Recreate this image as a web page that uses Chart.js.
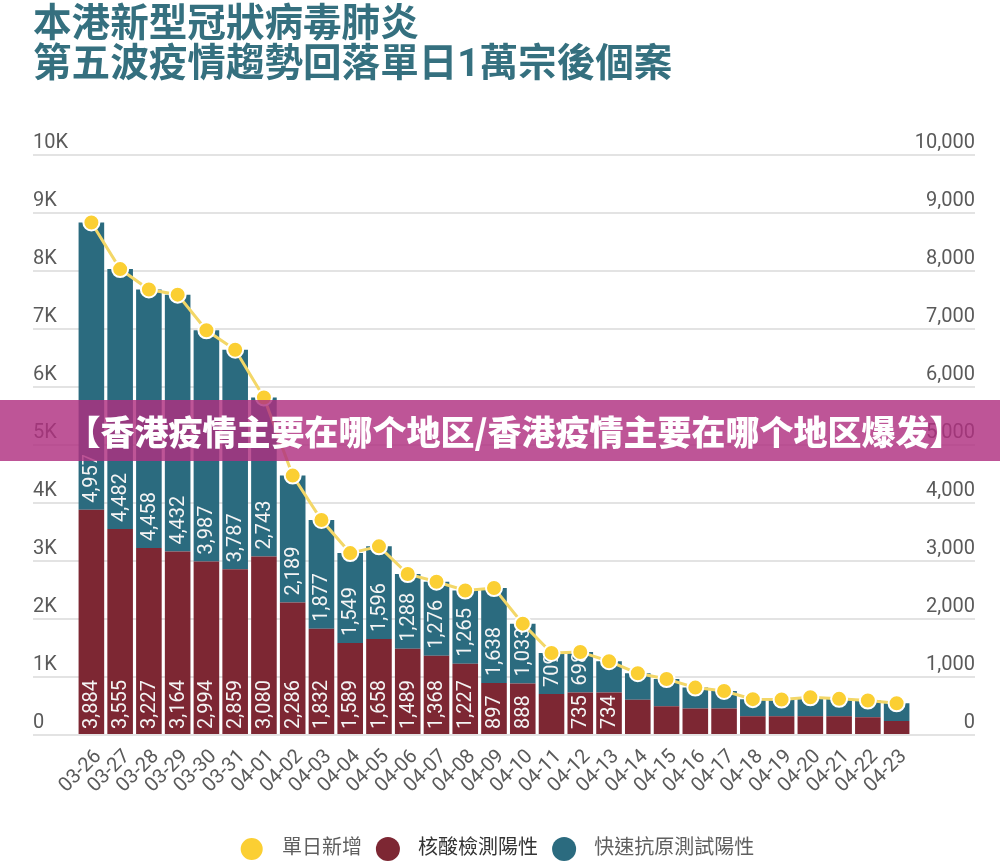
<!DOCTYPE html>
<html>
<head>
<meta charset="utf-8">
<script src="https://cdn.jsdelivr.net/npm/chart.js@4"></script>
<style>
  body { margin: 0; background: #fff; }
  canvas { display: block; }
</style>
</head>
<body>
<canvas id="myChart" width="1000" height="863"></canvas>
<script>
const dates = ['03-26','03-27','03-28','03-29','03-30','03-31','04-01','04-02','04-03','04-04','04-05','04-06','04-07','04-08','04-09','04-10','04-11','04-12','04-13','04-14','04-15','04-16','04-17','04-18','04-19','04-20','04-21','04-22','04-23'];
const pcrPositive = [3884,3555,3227,3164,2994,2859,3080,2286,1832,1589,1658,1489,1368,1227,897,888,706,735,734,606,494,459,459,324,324,324,324,306,241];
const ratPositive = [4957,4482,4458,4432,3987,3787,2743,2189,1877,1549,1596,1288,1276,1265,1638,1033,709,698,538,459,471,359,300,294,288,326,300,288,306];
const dailyNew = [8841,8037,7685,7596,6981,6646,5823,4475,3709,3138,3254,2777,2644,2492,2535,1921,1415,1433,1272,1065,965,818,759,618,612,650,624,594,547];
const leftTicks = ['0','1K','2K','3K','4K','5K','6K','7K','8K','9K','10K'];
const rightTicks = ['0','1,000','2,000','3,000','4,000','5,000','6,000','7,000','8,000','9,000','10,000'];
const pcrNoLabel = ['04-11']; // en el original esta barra no lleva numero
const minLabelHeight = 40;

const titleLines = ['本港新型冠狀病毒肺炎', '第五波疫情趨勢回落單日1萬宗後個案'];
const bannerText = '【香港疫情主要在哪个地区/香港疫情主要在哪个地区爆发】';
const seriesNames = ['單日新增', '核酸檢測陽性', '快速抗原測試陽性'];

const cjk = 'Roboto, "Noto Sans CJK TC", sans-serif';
const gridColor = '#e3e3e3';
const tickColor = '#5a5a5a';

// numeros blancos dentro de las barras, antes de dibujar la linea
const barLabels = {
  id: 'barLabels',
  afterDatasetDraw(chart, args) {
    if (args.index === 0) return;
    const ctx = chart.ctx;
    const values = args.index === 1 ? pcrPositive : ratPositive;
    const gap = args.index === 1 ? 5 : 7;
    args.meta.data.forEach((bar, i) => {
      const height = bar.base - bar.y;
      if (height < minLabelHeight) return;
      if (args.index === 1 && pcrNoLabel.includes(dates[i])) return;
      ctx.save();
      ctx.translate(bar.x, bar.base - gap);
      ctx.rotate(-Math.PI / 2);
      ctx.fillStyle = '#f4f4f4';
      ctx.font = '20px Roboto';
      ctx.textAlign = 'left';
      ctx.textBaseline = 'middle';
      ctx.fillText(values[i].toLocaleString('en-US'), 0, 1);
      ctx.restore();
    });
  }
};

// la franja que cruza el grafico
const banner = {
  id: 'banner',
  afterDraw(chart) {
    const ctx = chart.ctx;
    ctx.save();
    ctx.fillStyle = 'rgba(176, 48, 128, 0.82)';
    ctx.fillRect(0, 400, chart.width, 61);
    ctx.fillStyle = '#fff';
    ctx.font = '900 34px "Noto Sans CJK SC"';
    ctx.textAlign = 'center';
    ctx.textBaseline = 'middle';
    ctx.fillText(bannerText, 515, 432);
    ctx.restore();
  }
};

// mueve la leyenda a su sitio
const legendShift = {
  id: 'legendShift',
  afterLayout(chart) {
    chart.legend.left -= 6;
    chart.legend.right -= 6;
    chart.legend.top += 6;
    chart.legend.bottom += 6;
  }
};

new Chart(document.getElementById('myChart'), {
  data: {
    labels: dates,
    datasets: [
      {
        type: 'line',
        label: seriesNames[0],
        data: dailyNew,
        yAxisID: 'y',
        order: 0,
        borderColor: '#f3d768',
        borderWidth: 3,
        backgroundColor: '#fbcf33',
        pointBackgroundColor: '#fbcf33',
        pointBorderColor: '#fff',
        pointBorderWidth: 2,
        pointRadius: 8,
        tension: 0
      },
      {
        type: 'bar',
        label: seriesNames[1],
        data: pcrPositive,
        yAxisID: 'y',
        stack: 'cases',
        order: 1,
        backgroundColor: '#7d2733',
        barPercentage: 0.89,
        categoryPercentage: 1
      },
      {
        type: 'bar',
        label: seriesNames[2],
        data: ratPositive,
        yAxisID: 'y',
        stack: 'cases',
        order: 1,
        backgroundColor: '#2b6b7f',
        barPercentage: 0.89,
        categoryPercentage: 1
      }
    ]
  },
  options: {
    responsive: false,
    animation: false,
    devicePixelRatio: 1,
    layout: { padding: { left: 33, right: 25, top: 0, bottom: 0 } },
    plugins: {
      title: {
        display: true,
        text: titleLines,
        align: 'start',
        color: '#35707f',
        font: { family: cjk, size: 38.6, weight: 'bold', lineHeight: 1.04 },
        padding: { top: 6, bottom: 69 }
      },
      legend: {
        position: 'bottom',
        labels: {
          usePointStyle: true,
          pointStyle: 'circle',
          boxHeight: 17,
          padding: 16,
          font: { family: cjk, size: 20 },
          sort: (a, b) => a.datasetIndex - b.datasetIndex,
          // espacio extra entre circulo y texto; el segundo va mas oscuro como en el original
          generateLabels(chart) {
            return Chart.defaults.plugins.legend.labels.generateLabels(chart).map(item => {
              item.text = '\u2002' + item.text;
              item.fontColor = item.datasetIndex === 1 ? '#333' : '#5f5f5f';
              return item;
            });
          }
        }
      },
      tooltip: { enabled: false }
    },
    scales: {
      x: {
        stacked: true,
        grid: { display: false },
        border: { display: false },
        ticks: {
          color: tickColor,
          font: { family: 'Roboto', size: 20 },
          minRotation: 45,
          maxRotation: 45,
          autoSkip: false,
          padding: 2,
          labelOffset: 7
        },
        afterFit(axis) { axis.height = 82; }
      },
      y: {
        stacked: true,
        min: 0,
        max: 10000,
        position: 'left',
        grid: { color: gridColor, lineWidth: 2, tickLength: 44 },
        border: { display: false },
        ticks: {
          stepSize: 1000,
          color: tickColor,
          font: { family: 'Roboto', size: 20 },
          crossAlign: 'far',
          labelOffset: -12,
          callback: (v, i) => leftTicks[i]
        },
        afterFit(axis) { axis.width = 44; }
      },
      yRight: {
        min: 0,
        max: 10000,
        position: 'right',
        grid: { color: gridColor, lineWidth: 2, drawOnChartArea: false, tickLength: 64 },
        border: { display: false },
        ticks: {
          stepSize: 1000,
          color: tickColor,
          font: { family: 'Roboto', size: 20 },
          crossAlign: 'far',
          labelOffset: -12,
          callback: (v, i) => rightTicks[i]
        },
        afterFit(axis) { axis.width = 64; }
      }
    }
  },
  plugins: [barLabels, banner, legendShift]
});
</script>
</body>
</html>
